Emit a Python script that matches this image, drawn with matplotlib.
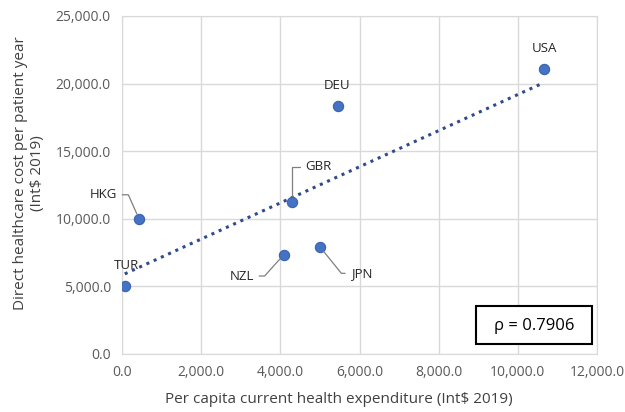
import numpy as np
import matplotlib.pyplot as plt
from matplotlib.patches import Rectangle

plt.rcParams['font.family'] = ['Open Sans', 'DejaVu Sans']

# data
countries = ["TUR", "HKG", "NZL", "GBR", "JPN", "DEU", "USA"]
health_exp = [70, 430, 4080, 4290, 5010, 5450, 10660]       # Int$ 2019
direct_cost = [5000, 10000, 7320, 11250, 7890, 18340, 21080]  # Int$ 2019
rho_text = "ρ = 0.7906"

# label offsets (pixels) and leader-line styles
label_pos = {
    "TUR": ((2, 21), None),
    "HKG": ((-36, 24), "angle,angleA=0,angleB=114"),
    "NZL": ((-42, -21), "angle,angleA=0,angleB=48"),
    "GBR": ((27, 35), "angle,angleA=0,angleB=90"),
    "JPN": ((41, -26), "angle,angleA=0,angleB=-51"),
    "DEU": ((-1, 21), None),
    "USA": ((0, 20), None),
}

fig = plt.figure(figsize=(6.25, 4.12), dpi=100)
ax = fig.add_axes([0.1952, 0.1408, 0.76, 0.8204])

ax.scatter(health_exp, direct_cost, s=55, color="#4472C4",
           edgecolors="#3A62AE", linewidths=0.8, zorder=3)

# linear trendline
coef = np.polyfit(health_exp, direct_cost, 1)
xs = np.array([min(health_exp), max(health_exp)])
ax.plot(xs, np.polyval(coef, xs), linestyle=(0, (1, 1.6)), color="#2F4B8C",
        linewidth=2.2, zorder=2)

for c, x, y in zip(countries, health_exp, direct_cost):
    off, conn = label_pos[c]
    props = None
    if conn:
        props = dict(arrowstyle="-", color="#7F7F7F", lw=0.9,
                     connectionstyle=conn, shrinkA=2, shrinkB=4)
    ax.annotate(c, (x, y), xytext=off, textcoords="offset pixels",
                ha="center", va="center", fontsize=9.5, color="#262626",
                arrowprops=props, zorder=4)

ax.set_xlim(0, 12000)
ax.set_ylim(0, 25000)
ax.set_xticks(np.arange(0, 12001, 2000))
ax.set_yticks(np.arange(0, 25001, 5000))
ax.xaxis.set_major_formatter(lambda v, p: f"{v:,.1f}")
ax.yaxis.set_major_formatter(lambda v, p: f"{v:,.1f}")
ax.tick_params(length=0, labelsize=10, colors="#595959", pad=8)
ax.grid(color="#D9D9D9", linewidth=1)
ax.set_axisbelow(True)
for s in ax.spines.values():
    s.set_color("#D9D9D9")

ax.set_xlabel("Per capita current health expenditure (Int$ 2019)",
              fontsize=11, color="#404040")
ax.set_ylabel("Direct healthcare cost per patient year\n(Int$ 2019)",
              fontsize=11, color="#404040", linespacing=1.1)
ax.xaxis.set_label_coords(0.457, -0.112)
ax.yaxis.set_label_coords(-0.163, 0.535)

ax.add_patch(Rectangle((0.745, 0.0296), 0.244, 0.1124, transform=ax.transAxes,
                       facecolor="white", edgecolor="black", lw=1.5, zorder=5))
ax.text(0.867, 0.083, rho_text, transform=ax.transAxes, ha="center",
        va="center", fontsize=12, color="black", zorder=6)

fig.savefig("out.png", dpi=100)
